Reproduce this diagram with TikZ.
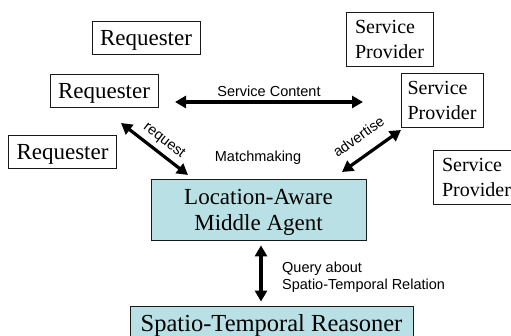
\documentclass[tikz,border=0pt]{standalone}
\usepackage{fontspec}
\setmainfont{Liberation Serif}
\setsansfont{Liberation Sans}
\usetikzlibrary{arrows.meta,positioning,calc}
\definecolor{laaink}{HTML}{1A1A1A}
\definecolor{laateal}{HTML}{B9E0E4}
\tikzset{
  bx/.style={draw=laaink, line width=0.8pt, align=center, inner sep=0pt, text depth=0pt},
  req/.style={bx, minimum width=108pt, minimum height=33pt, font=\fontsize{23}{26}\selectfont},
  prov/.style={bx, align=left, minimum height=54pt, font=\fontsize{20}{25}\selectfont},
  agt/.style={bx, fill=laateal, font=\fontsize{23}{26}\selectfont},
  arr2/.style={{Triangle[length=11pt,width=12pt]}-{Triangle[length=11pt,width=12pt]}, line width=3.2pt, color=black},
  lbl/.style={font=\sffamily\fontsize{14.5}{17}\selectfont},
}

\begin{document}
\begin{tikzpicture}[x=1pt, y=-1pt]
    \useasboundingbox (0,0) rectangle (511,336);
    \node[req] (req1) at (146,37.5) {Requester};
    \node[req] (req2) at (104,90.5) {Requester};
    \node[req] (req3) at (62.5,151.5) {Requester};
    \node[prov, minimum width=87pt] (prov1) at (389.5,39.5) {Service\\Provider};
    \node[prov, minimum width=82pt] (prov2) at (442,100.5) {Service\\Provider};
    \node[prov, minimum width=87pt] (prov3) at (476.5,177.5) {Service\\Provider};
    \node[agt, minimum width=215pt, minimum height=61pt] (agent) at (258.5,209.5) {Location-Aware\\Middle Agent};
    \node[agt, minimum width=283pt, minimum height=34pt, font=\fontsize{24.5}{28}\selectfont] (reasoner) at (271.5,323) {Spatio-Temporal Reasoner};
    \coordinate (sc-l) at (175,102);
    \coordinate (sc-r) at (363,102);
    \coordinate (rq-a) at (121,123);
    \coordinate (rq-b) at (188,175);
    \coordinate (ad-a) at (342,172);
    \coordinate (ad-b) at (401,130);
    \coordinate (qa) at ([xshift=2.5pt]agent.south);
    \draw[arr2] (sc-l) -- node[lbl, above]{Service Content} (sc-r);
    \draw[arr2] (rq-a) -- node[lbl, sloped, above=1pt, pos=0.53]{request} (rq-b);
    \draw[arr2] (ad-a) -- node[lbl, sloped, above=9pt, pos=0.47]{advertise} (ad-b);
    \draw[arr2, shorten <=5pt, shorten >=4pt] (qa) -- (qa |- reasoner.north);
    \node[lbl, anchor=base] (match) at (258,162) {Matchmaking};
    \node[lbl, align=left, anchor=north west, inner sep=0pt] (query) at (282,261.5) {Query about\\Spatio-Temporal Relation};
\end{tikzpicture}
\end{document}
